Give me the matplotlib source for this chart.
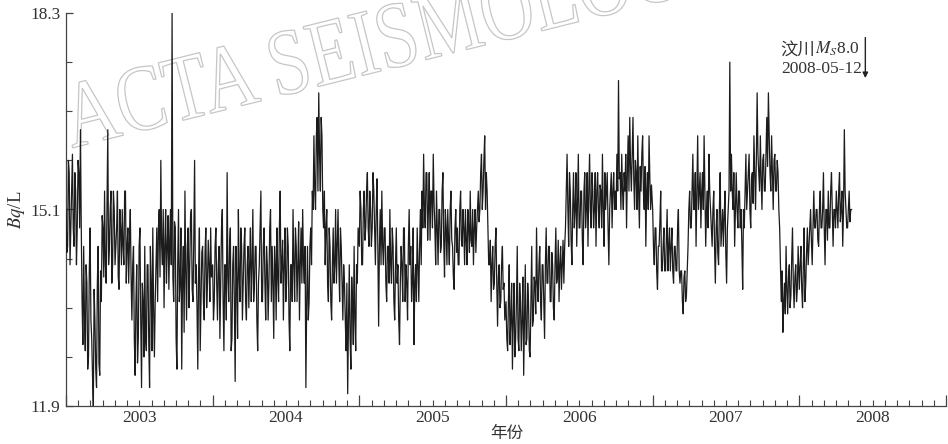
import numpy as np
import matplotlib
matplotlib.use("Agg")
import matplotlib.pyplot as plt
import matplotlib.transforms as mtransforms
from matplotlib.textpath import TextPath
from matplotlib.patches import PathPatch
from matplotlib.font_manager import FontProperties
from matplotlib.ticker import FixedLocator, FuncFormatter

plt.rcParams["font.family"] = ["Liberation Serif", "Noto Sans CJK SC"]
plt.rcParams["mathtext.fontset"] = "stix"

# ── Data: radon concentration (Bq/L) ────────────────────────────────────────
# "a" readings every 4 days from 1 Jan, "b" readings 2 days after each "a"
STEP_DAYS = 4

a_2003 = [15.1, 14.5, 15.7, 14.8, 16.0, 14.5, 15.4, 14.8, 15.7, 16.4,
          13.6, 14.5, 12.8, 13.9, 12.7, 14.8, 13.0, 11.9,
          13.3, 12.2, 14.5, 12.4, 13.6,
          14.8, 15.4, 13.9, 16.4, 14.5, 15.4, 14.2, 15.1, 14.5, 15.4, 13.8,
          14.8, 15.1, 14.2, 15.4, 14.5, 13.9, 15.1,
          13.3, 14.5, 12.4, 14.2, 13.0, 14.8, 12.2, 13.6, 14.5, 12.8, 14.2,
          12.2, 13.9, 14.8, 12.7, 14.2,
          13.6, 15.1, 15.9, 14.2, 13.5, 15.1, 14.5, 13.8, 15.1,
          18.3,
          13.6, 14.8, 12.5, 15.1, 13.9, 12.5, 14.5, 15.4, 13.3, 14.8, 14.2,
          15.1, 13.6, 15.9, 14.2, 12.5, 14.8, 13.6,
          14.5, 13.3, 14.8, 13.9, 14.2, 14.8]
b_2003 = [14.4, 15.9, 14.2, 15.4, 14.8, 15.7, 14.2, 15.9, 14.8, 14.8,
          12.9, 13.3, 14.2, 12.5, 14.1, 13.3, 12.4, 13.8,
          12.5, 13.9, 12.6, 14.1, 15.0,
          14.0, 14.2, 15.1, 14.2, 15.1, 13.9, 15.4, 14.2, 14.8, 14.0, 15.1,
          14.2, 14.5, 15.4, 13.9, 14.8, 14.6, 14.0,
          14.2, 13.0, 13.6, 12.6, 14.5, 13.3, 13.9, 12.7, 13.0, 14.2, 12.9,
          14.5, 12.8, 13.5, 13.6, 14.8,
          14.8, 14.0, 14.5, 15.1, 14.5, 13.9, 15.0, 14.6, 14.2,
          14.0,
          14.9, 13.0, 14.2, 13.6, 14.8, 14.0, 13.1, 14.1, 14.5, 13.5, 15.0,
          13.8, 14.6, 13.9, 13.5, 14.1, 12.8, 14.4,
          13.6, 14.4, 13.5, 14.6, 13.6, 14.0]

a_2004 = [14.2, 13.6, 14.8, 13.3, 14.5, 13.9, 15.1, 12.8, 14.2, 15.7,
          13.6, 14.8, 13.0, 14.5, 12.3, 13.9, 15.1, 13.6, 14.5,
          13.9, 14.8, 13.3, 14.5, 14.2, 13.6, 15.1, 13.9, 14.5, 12.8,
          14.2, 15.4, 13.6, 14.8, 13.3, 14.2, 13.9, 15.1, 14.5, 13.0,
          14.2, 14.8, 13.6, 15.4, 14.2, 13.3, 14.8, 13.9, 14.5, 12.8,
          14.2, 15.1, 13.6, 14.5, 14.2, 13.3, 14.8, 15.1, 13.9, 12.2,
          14.5, 13.6, 14.8,
          15.4, 16.3, 15.1, 16.6, 17.0, 15.4, 16.3, 14.8,
          14.2, 15.1, 13.6, 14.5, 13.3, 14.8, 14.2, 13.9, 15.1, 13.6,
          14.5, 13.3,
          13.9, 12.8, 12.1, 14.2, 12.5, 13.6, 14.5, 12.8, 13.9]
b_2004 = [13.3, 14.5, 13.9, 14.2, 13.0, 14.8, 13.6, 14.2, 13.3, 14.0,
          14.5, 12.8, 14.2, 13.6, 14.5, 13.0, 14.0, 14.8, 13.3,
          14.5, 13.6, 14.2, 13.5, 14.8, 14.2, 13.6, 14.5, 13.3, 13.9,
          14.8, 13.6, 14.5, 13.9, 14.5, 13.3, 14.8, 13.6, 13.9, 14.5,
          13.3, 14.0, 14.8, 13.9, 14.6, 14.2, 13.6, 14.8, 13.3, 14.2,
          13.6, 14.2, 14.8, 13.6, 14.9, 14.2, 13.9, 14.2, 14.5, 13.6,
          13.3, 14.5, 14.2,
          15.1, 15.4, 16.3, 15.4, 16.0, 16.6, 15.1, 15.4,
          14.8, 13.9, 14.8, 13.6, 14.2, 13.9, 15.1, 14.5, 14.2, 14.8,
          13.9, 14.2,
          13.3, 13.9, 13.3, 13.0, 14.0, 12.9, 13.3, 14.2, 14.8]

a_2005 = [14.5, 15.1, 14.2, 15.4, 14.8, 15.7, 14.5, 15.1, 14.8, 15.4,
          14.2, 15.6, 13.2, 15.1,
          15.4, 14.2, 14.8, 13.6, 14.5, 15.1, 13.9, 14.5, 13.3, 14.8,
          14.2, 12.9, 14.5, 13.6, 14.8, 14.2, 13.3, 15.1, 14.5, 13.9,
          12.9, 14.2, 14.8, 13.6, 15.1,
          15.4, 16.0, 14.8, 15.7, 15.1, 14.6, 15.4, 16.0,
          14.8, 15.4, 14.2, 15.1, 14.5, 15.7, 14.0, 14.8, 15.1, 14.2,
          15.4, 14.5, 13.8, 15.1, 14.8, 14.2, 15.4, 14.5, 14.8, 15.1,
          14.2, 14.8, 15.4, 14.5, 14.2, 15.1, 14.8,
          15.4, 15.1, 16.0, 15.4, 16.3, 15.7,
          14.8, 14.2, 13.6, 14.5, 13.9, 14.8, 13.2, 14.2, 13.6, 14.5, 13.9]
b_2005 = [15.4, 14.2, 15.1, 14.6, 15.4, 14.8, 15.4, 14.5, 15.7, 14.8,
          15.1, 14.5, 14.5, 14.2,
          14.5, 14.8, 13.9, 14.5, 13.9, 14.2, 14.8, 13.6, 14.2, 13.9,
          13.3, 13.9, 14.2, 14.8, 13.6, 13.9, 14.5, 14.2, 13.6, 14.8,
          13.9, 13.6, 14.2, 14.5, 14.2,
          14.8, 15.1, 15.7, 14.6, 15.7, 15.4, 14.8, 15.2,
          14.2, 14.8, 15.1, 14.4, 15.4, 14.6, 15.1, 14.2, 14.6, 15.1,
          14.6, 14.0, 14.8, 14.4, 14.2, 15.1, 14.6, 15.1, 14.2, 14.6,
          15.1, 14.4, 14.6, 15.1, 14.8, 14.4, 15.1,
          14.9, 15.7, 15.1, 15.9, 15.1, 15.4,
          14.2, 14.6, 14.2, 13.8, 14.5, 13.9, 14.0, 13.5, 14.2, 13.8, 13.3]

a_2006 = [13.6, 12.8, 14.2, 13.3, 12.5, 13.9, 13.0, 14.5, 12.8, 13.6,
          13.3, 12.4, 14.2, 13.0, 13.6, 12.7, 14.5, 13.3,
          13.9, 14.8, 13.6, 14.5, 13.3, 14.2, 13.0, 14.8, 13.9, 14.5,
          13.6, 14.2, 13.3, 14.8, 14.0, 13.6, 14.5, 14.2, 13.9,
          14.8, 16.0, 14.5, 15.4, 14.2, 15.7,
          15.1, 14.5, 16.0, 14.8, 15.4, 14.2, 15.7, 15.1, 14.5, 16.0,
          14.8, 15.4, 15.1, 14.5, 15.7, 14.8, 15.4, 16.0, 14.5, 15.1,
          15.7, 14.2, 15.4, 14.8, 15.7,
          15.4, 16.0, 17.2,
          15.7, 16.0, 15.1, 15.4, 14.8, 16.3, 16.6, 15.4, 16.6, 15.1,
          15.7, 16.3, 14.8, 15.4, 16.3, 15.1, 14.5, 15.7, 16.3, 15.1]
b_2006 = [13.0, 13.6, 12.9, 13.9, 13.3, 12.7, 13.6, 13.0, 13.9, 12.8,
          14.0, 13.3, 12.9, 13.9, 12.8, 13.6, 13.2, 14.0,
          13.4, 13.9, 14.2, 13.6, 14.2, 13.6, 14.2, 13.9, 14.5, 13.6,
          14.4, 13.5, 14.2, 13.9, 14.6, 14.2, 13.8, 14.6, 14.5,
          15.4, 15.1, 15.7, 14.6, 15.1, 14.8,
          15.7, 15.2, 14.8, 15.4, 14.6, 15.4, 14.8, 15.7, 15.4, 15.1,
          15.7, 14.8, 15.7, 15.4, 15.1, 15.5, 14.8, 15.1, 15.7, 15.4,
          14.8, 15.1, 15.7, 15.4, 15.1,
          15.1, 15.4, 15.6,
          15.1, 15.4, 15.7, 16.0, 15.7, 15.4, 15.8, 16.0, 15.6, 15.9,
          15.1, 15.4, 15.8, 16.0, 15.4, 15.8, 15.4, 15.1, 15.6, 15.5]

a_2007 = [15.1, 14.2, 14.8, 13.8, 14.5, 15.4, 14.1, 14.8, 14.1, 15.1,
          14.5, 14.1, 14.8, 13.9, 14.5, 14.1, 15.1,
          13.9, 14.1, 13.4, 14.1, 13.7, 14.5,
          15.4, 14.8, 16.0, 15.1, 14.5, 16.3, 15.4, 14.8, 15.7, 16.3,
          14.5, 15.4, 16.0, 15.1,
          14.5, 15.4, 13.9, 15.1, 14.2, 15.7, 14.8, 14.5, 15.4, 13.9, 15.1,
          17.5,
          16.0, 15.1, 14.5, 15.7, 14.8, 15.4, 15.1, 13.8, 14.8, 16.0,
          15.4, 16.0, 14.8, 15.7, 16.3, 15.1, 17.0, 15.7, 16.3, 15.1,
          16.0, 15.4, 16.6, 17.0, 15.7, 16.3, 15.1, 16.0, 15.4, 15.7,
          14.8, 13.6, 13.1,
          13.9, 14.5, 13.4, 14.2, 13.7, 14.8, 13.5, 14.2, 13.8]
b_2007 = [14.5, 14.8, 14.1, 14.5, 14.9, 14.1, 14.5, 14.1, 14.6, 14.1,
          14.8, 14.5, 14.1, 14.5, 14.1, 14.8, 14.1,
          14.1, 13.6, 14.0, 13.6, 14.1, 15.1,
          14.8, 15.4, 15.1, 15.7, 15.4, 15.1, 15.7, 15.4, 15.1, 15.4,
          15.1, 14.8, 15.4, 14.8,
          15.1, 14.5, 14.8, 14.4, 15.1, 14.5, 15.1, 15.0, 14.4, 14.8, 15.4,
          15.4,
          15.4, 15.7, 15.1, 15.1, 15.4, 14.8, 14.5, 15.1, 15.4, 15.1,
          15.7, 15.1, 15.6, 15.2, 15.7, 15.9, 16.0, 15.4, 15.6, 15.9,
          15.4, 16.0, 15.8, 16.3, 15.4, 15.7, 15.9, 15.4, 15.9, 15.1,
          14.2, 14.1, 13.6,
          13.4, 13.8, 14.0, 13.5, 14.3, 13.9, 14.0, 13.6, 14.5]

a_2008 = [13.8, 14.5, 13.5, 14.8, 13.9, 14.8,
          14.5, 15.1, 14.2, 15.4, 14.8, 15.1, 14.5, 15.4, 14.8, 15.7,
          14.2, 15.1, 15.4, 14.8, 15.7, 14.5, 15.1, 15.4, 14.8, 15.7,
          15.1, 14.5, 16.4, 15.1, 14.8, 15.4, 15.1]
b_2008 = [14.2, 13.8, 14.2, 13.6, 14.4, 14.2,
          14.8, 14.6, 14.8, 14.8, 15.1, 14.6, 15.1, 14.8, 15.1, 14.8,
          15.1, 14.6, 14.8, 15.4, 15.1, 15.1, 14.8, 15.1, 15.4, 14.9,
          15.4, 15.1, 15.4, 14.8, 15.1, 14.9, 15.1]

years = [2003, 2004, 2005, 2006, 2007, 2008]
series_a = [a_2003, a_2004, a_2005, a_2006, a_2007, a_2008]
series_b = [b_2003, b_2004, b_2005, b_2006, b_2007, b_2008]

year_labels = ["2003", "2004", "2005", "2006", "2007", "2008"]
y_major = [11.9, 15.1, 18.3]
y_minor = [12.7, 13.5, 14.3, 15.9, 16.7, 17.5]

quake_year = 2008.45
quake_mag = "$M_S$8.0"
quake_name = "汶川"
quake_date = "2008-05-12"

# ── Build time axis (interleave a / b readings) ─────────────────────────────
t_all, v_all = [], []
for yr, a, b in zip(years, series_a, series_b):
    n = min(len(a), len(b))
    days = np.empty(2 * n)
    days[0::2] = np.arange(n) * STEP_DAYS
    days[1::2] = np.arange(n) * STEP_DAYS + STEP_DAYS / 2
    vals = np.empty(2 * n)
    vals[0::2] = a[:n]
    vals[1::2] = b[:n]
    t_all.append(yr + days / 365.0)
    v_all.append(vals)
t_all = np.concatenate(t_all)
v_all = np.concatenate(v_all)

# ── Figure ───────────────────────────────────────────────────────────────────
fig = plt.figure(figsize=(9.48, 4.44), dpi=100)
ax = fig.add_axes([66 / 948, 1 - 406 / 444, (946 - 66) / 948, (406 - 13) / 444])
ax.patch.set_alpha(0)

# watermark (outlined serif text)
tp = TextPath((0, 0), "ACTA SEISMOLOGICA SINICA", size=65,
              prop=FontProperties(family="Liberation Serif"))
wm_tr = mtransforms.Affine2D().scale(1.14, 1.45).rotate_deg(14).translate(72, 444 - 148)
wm = PathPatch(tp, transform=wm_tr, facecolor="none", edgecolor="#c6c6c6",
               lw=0.9, zorder=-5)
fig.add_artist(wm)

ax.plot(t_all, v_all, color="#1c1c1c", lw=0.9, zorder=3)

ax.set_xlim(2003, 2009)
ax.set_ylim(11.9, 18.3)

for s in ["top", "right"]:
    ax.spines[s].set_visible(False)
for s in ["left", "bottom"]:
    ax.spines[s].set_color("#444444")
    ax.spines[s].set_linewidth(0.9)

# x axis: year boundaries (major), months (minor), labels mid-year
ax.xaxis.set_major_locator(FixedLocator(list(range(2003, 2010))))
ax.xaxis.set_major_formatter(FuncFormatter(lambda x, p: ""))
months = [2003 + m / 12 for m in range(0, 6 * 12 + 1) if m % 12 != 0]
ax.xaxis.set_minor_locator(FixedLocator(months))
lab_map = {round(y + 0.5, 3): lab for y, lab in zip(years, year_labels)}
ax.xaxis.set_minor_formatter(FuncFormatter(lambda x, p: lab_map.get(round(x, 3), "")))

ax.set_yticks(y_major)
ax.set_yticklabels([f"{v:.1f}" for v in y_major])
ax.set_yticks(y_minor, minor=True)

ax.tick_params(axis="x", which="major", direction="in", length=8, width=0.9,
               color="#444444", pad=3)
ax.tick_params(axis="x", which="minor", direction="in", length=4, width=0.8,
               color="#444444", labelsize=12.5, labelcolor="#333333", pad=3)
ax.tick_params(axis="y", which="major", direction="in", length=5, width=0.9,
               color="#444444", labelsize=12.5, labelcolor="#333333", pad=4)
ax.tick_params(axis="y", which="minor", direction="in", length=4, width=0.8,
               color="#444444")

fig.text(507 / 948, 1 - 433 / 444, "年份", ha="center", va="center",
         fontsize=12, color="#333333", family=["Noto Sans CJK SC", "DejaVu Sans"])
ax.set_ylabel("$Bq$/L", fontsize=13.5, color="#333333", labelpad=2)

# earthquake marker
ax.annotate("", xy=(quake_year, 17.24), xytext=(quake_year, 17.9),
            arrowprops=dict(arrowstyle="-|>", color="#222222", lw=1.0,
                            mutation_scale=8, shrinkA=0, shrinkB=0))
t_mag = ax.text(quake_year - 0.04, 17.72, quake_mag, ha="right", va="center",
                fontsize=12.5, color="#333333")
ax.annotate(quake_name, xy=(0, 0.45), xycoords=t_mag, ha="right", va="center",
            fontsize=12.5, color="#333333",
            family=["Noto Sans CJK SC", "DejaVu Sans"])
ax.text(quake_year - 0.02, 17.38, quake_date, ha="right", va="center",
        fontsize=12.5, color="#333333")

fig.savefig("out.png", dpi=100)
